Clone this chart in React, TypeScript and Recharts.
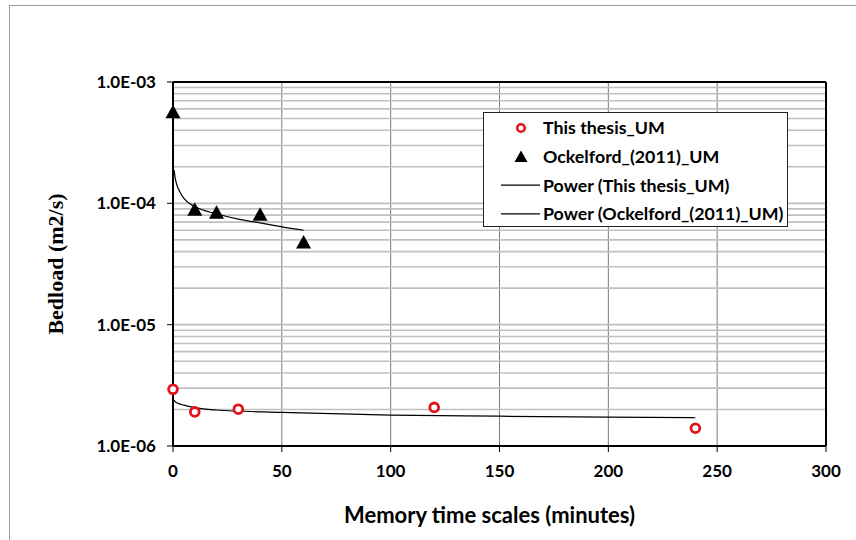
import React from 'react';
import {
  ComposedChart,
  Scatter,
  Line,
  XAxis,
  YAxis,
  CartesianGrid,
  ReferenceLine,
  Legend,
} from 'recharts';

// Measured bedload transport vs. memory time scale
const thesisTime = [0, 10, 30, 120, 240];
const thesisBedload = [2.93e-6, 1.91e-6, 2.01e-6, 2.08e-6, 1.4e-6];

const ockelfordTime = [0, 10, 20, 40, 60];
const ockelfordBedload = [5.7e-4, 8.97e-5, 8.48e-5, 8.16e-5, 4.82e-5];

// Power trendlines
const thesisFitTime = [0.5, 1, 2, 5, 10, 20, 50, 100, 150, 200, 240];
const thesisFitBedload = [2.39e-6, 2.32e-6, 2.26e-6, 2.17e-6, 2.07e-6, 1.98e-6, 1.89e-6, 1.8e-6, 1.76e-6, 1.73e-6, 1.71e-6];

const ockelfordFitTime = [0.5, 1, 2, 3, 5, 10, 20, 30, 40, 50, 60];
const ockelfordFitBedload = [1.88e-4, 1.62e-4, 1.38e-4, 1.26e-4, 1.1e-4, 9.4e-5, 8.2e-5, 7.4e-5, 6.9e-5, 6.4e-5, 6.0e-5];

const seriesNames = [
  'This thesis_UM',
  'Ockelford_(2011)_UM',
  'Power (This thesis_UM)',
  'Power (Ockelford_(2011)_UM)',
];

const xTicks = [0, 50, 100, 150, 200, 250, 300];
const yTicks = [1e-6, 1e-5, 1e-4, 1e-3];
// log grid: 1..9 within each decade
const yGridValues: number[] = [];
for (let e = -6; e < -3; e++) {
  for (let m = 1; m <= 9; m++) yGridValues.push(m * Math.pow(10, e));
}

const zip = (xs: number[], ys: number[]) => xs.map((x, i) => ({ x, y: ys[i] }));
const thesisData = zip(thesisTime, thesisBedload);
const ockelfordData = zip(ockelfordTime, ockelfordBedload);
const thesisFit = zip(thesisFitTime, thesisFitBedload);
const ockelfordFit = zip(ockelfordFitTime, ockelfordFitBedload);

const RED = '#e2131b';
const SANS = 'Lato, "Open Sans", sans-serif';

const formatSci = (v: number) => {
  const e = Math.round(Math.log10(v));
  const m = v / Math.pow(10, e);
  const sign = e < 0 ? '-' : '+';
  return `${m.toFixed(1)}E${sign}${String(Math.abs(e)).padStart(2, '0')}`;
};

const RingMarker = (props: any) => {
  const { cx, cy } = props;
  if (cx == null || cy == null) return null;
  return <circle cx={cx} cy={cy} r={4.4} fill="#fff" stroke={RED} strokeWidth={2.8} />;
};

const TriangleMarker = (props: any) => {
  const { cx, cy } = props;
  if (cx == null || cy == null) return null;
  const w = 7.5;
  const h = 13.5;
  return (
    <polygon
      points={`${cx},${cy - h / 2} ${cx + w},${cy + h / 2} ${cx - w},${cy + h / 2}`}
      fill="#000"
    />
  );
};

const LegendBox = () => {
  const rowH = 28.6;
  const rows = seriesNames.map((name, i) => {
    const cy = 15 + i * rowH;
    let mark: React.ReactNode = null;
    if (i === 0) mark = <circle cx={37} cy={cy} r={3.8} fill="#fff" stroke={RED} strokeWidth={2.6} />;
    else if (i === 1)
      mark = <polygon points={`37,${cy - 6} 43.5,${cy + 5.5} 30.5,${cy + 5.5}`} fill="#000" />;
    else mark = <line x1={17} x2={56} y1={cy} y2={cy} stroke="#000" strokeWidth={1.2} />;
    return (
      <g key={name}>
        {mark}
        <text
          x={59}
          y={cy}
          dy="0.36em"
          fontFamily={SANS}
          fontWeight={700}
          fontSize={17.8}
          fill="#000"
        >
          {name}
        </text>
      </g>
    );
  });
  return (
    <svg
      width={305}
      height={115}
      style={{ display: 'block', background: '#fff', border: '1px solid #222', boxSizing: 'border-box', overflow: 'visible' }}
    >
      {rows}
    </svg>
  );
};

const YTitle = (props: any) => {
  const { viewBox } = props;
  const cy = viewBox.y + viewBox.height / 2;
  return (
    <text
      x={55}
      y={cy}
      transform={`rotate(-90, 55, ${cy})`}
      textAnchor="middle"
      dominantBaseline="central"
      fontFamily='"Liberation Serif", "Times New Roman", serif'
      fontWeight={700}
      fontSize={22}
      fill="#000"
    >
      Bedload  (m2/s)
    </text>
  );
};

const XTitle = (props: any) => {
  const { viewBox } = props;
  return (
    <text
      x={viewBox.x + viewBox.width / 2 - 10}
      y={514}
      textAnchor="middle"
      dominantBaseline="central"
      fontFamily={SANS}
      fontWeight={700}
      fontSize={22}
      fill="#000"
    >
      Memory time scales (minutes)
    </text>
  );
};

export default function App() {
  return (
    <div
      style={{
        position: 'absolute',
        left: 0,
        top: 0,
        width: 856,
        height: 540,
        overflow: 'hidden',
        background: '#fff',
      }}
    >
      <div
        style={{
          position: 'absolute',
          left: 9,
          top: 5,
          width: 900,
          height: 600,
          border: '1px solid #9a9a9a',
        }}
      />
      <div style={{ position: 'absolute', left: 0, top: 0 }}>
        <ComposedChart
          width={856}
          height={540}
          margin={{ top: 82, right: 30, bottom: 34, left: 93 }}
        >
          <CartesianGrid horizontal={false} stroke="#7a7a7a" strokeWidth={1} />
          {yGridValues.map((v) => (
            <ReferenceLine key={v} y={v} stroke="#c0c0c0" strokeWidth={1.6} />
          ))}
          <XAxis
            type="number"
            dataKey="x"
            domain={[0, 300]}
            ticks={xTicks}
            height={60}
            tickSize={6}
            tickMargin={13}
            axisLine={{ stroke: '#000', strokeWidth: 2 }}
            tickLine={{ stroke: '#000', strokeWidth: 1 }}
            tick={{ fill: '#000', fontFamily: SANS, fontWeight: 700, fontSize: 17 }}
            label={<XTitle />}
          />
          <YAxis
            type="number"
            dataKey="y"
            scale="log"
            domain={[1e-6, 1e-3]}
            ticks={yTicks}
            width={80}
            tickSize={6}
            tickMargin={11}
            tickFormatter={formatSci}
            axisLine={{ stroke: '#000', strokeWidth: 2 }}
            tickLine={{ stroke: '#000', strokeWidth: 1 }}
            tick={{ fill: '#000', fontFamily: SANS, fontWeight: 700, fontSize: 17 }}
            label={<YTitle />}
          />
          <ReferenceLine y={1e-3} stroke="#000" strokeWidth={2} />
          <ReferenceLine x={300} stroke="#000" strokeWidth={2} />
          <Line
            data={thesisFit}
            dataKey="y"
            type="monotone"
            stroke="#000"
            strokeWidth={1.2}
            dot={false}
            activeDot={false}
            isAnimationActive={false}
            name={seriesNames[2]}
          />
          <Line
            data={ockelfordFit}
            dataKey="y"
            type="monotone"
            stroke="#000"
            strokeWidth={1.2}
            dot={false}
            activeDot={false}
            isAnimationActive={false}
            name={seriesNames[3]}
          />
          <Scatter
            data={thesisData}
            dataKey="y"
            shape={<RingMarker />}
            isAnimationActive={false}
            name={seriesNames[0]}
          />
          <Scatter
            data={ockelfordData}
            dataKey="y"
            shape={<TriangleMarker />}
            isAnimationActive={false}
            name={seriesNames[1]}
          />
          <Legend
            layout="vertical"
            align="center"
            verticalAlign="middle"
            wrapperStyle={{ left: 483, top: 112, width: 305, height: 115 }}
            content={() => <LegendBox />}
          />
        </ComposedChart>
      </div>
    </div>
  );
}
